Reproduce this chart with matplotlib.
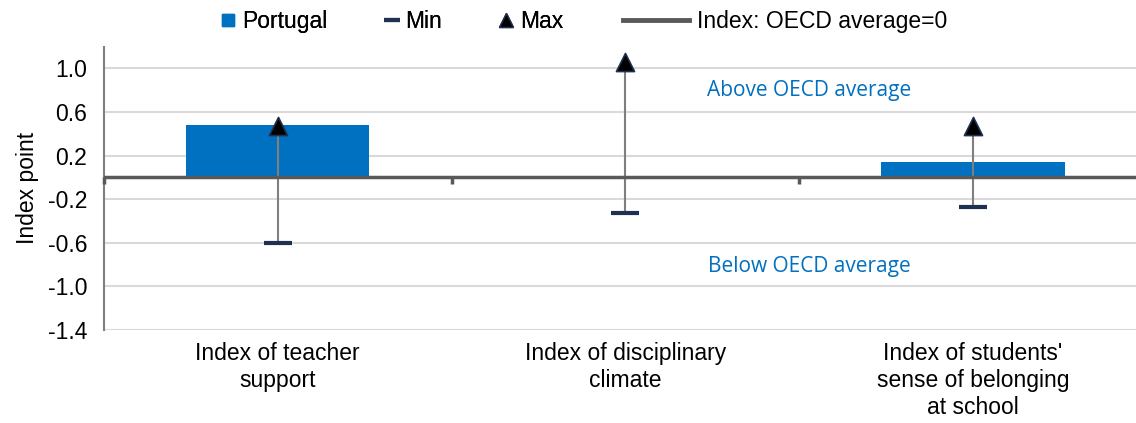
import numpy as np
import matplotlib
matplotlib.use("Agg")
import matplotlib.pyplot as plt
from matplotlib.lines import Line2D

plt.rcParams["font.family"] = ["Liberation Sans", "DejaVu Sans"]

categories = [
    "Index of teacher\nsupport",
    "Index of disciplinary\nclimate",
    "Index of students'\nsense of belonging\nat school",
]
portugal = [0.48, 0.01, 0.14]
mins = [-0.60, -0.33, -0.27]
maxs = [0.47, 1.06, 0.47]
yticks = [-1.4, -1.0, -0.6, -0.2, 0.2, 0.6, 1.0]

bar_color = "#0070C0"
marker_color = "#1F3050"
axis_gray = "#7F7F7F"
zero_gray = "#595959"

fig = plt.figure(figsize=(11.36, 4.23), dpi=100)
ax = fig.add_axes([0.0915, 0.22, 0.918, 0.67])

x = np.arange(len(categories))
ax.set_xlim(-0.5, len(categories) - 0.5)
ax.set_ylim(-1.4, 1.2)

# grid
for yv in yticks:
    ax.axhline(yv, color="#D9D9D9", lw=1.5, zorder=0)

ax.bar(x, portugal, width=0.527, color=bar_color, zorder=2)

# min-max range lines
ax.vlines(x, mins, maxs, color=axis_gray, lw=1.5, zorder=3)
ax.scatter(x, mins, marker="_", s=420, color=marker_color, linewidths=3, zorder=4)
ax.scatter(x, maxs, marker="^", s=170, color="black", edgecolors=marker_color,
           linewidths=1.2, zorder=4)

# zero line (OECD average)
ax.axhline(0, color=zero_gray, lw=2.5, zorder=3)
for b in np.arange(len(categories) + 1) - 0.5:
    ax.plot([b, b], [0, -0.06], color=zero_gray, lw=2.5, zorder=3,
            solid_capstyle="butt", clip_on=False)

ax.text(1.53, 0.80, "Above OECD average", color=bar_color, fontsize=15,
        family=["Open Sans", "DejaVu Sans"], ha="center", va="center")
ax.text(1.53, -0.82, "Below OECD average", color=bar_color, fontsize=15,
        family=["Open Sans", "DejaVu Sans"], ha="center", va="center")

ax.set_yticks(yticks)
ax.set_yticklabels([f"{v:.1f}" for v in yticks], fontsize=16.5)
ax.set_xticks(x)
ax.set_xticklabels(categories, fontsize=16.5, linespacing=1.2)
ax.tick_params(axis="x", length=0, pad=9)
ax.tick_params(axis="y", length=0, pad=12)
ax.set_ylabel("Index point", fontsize=16.5, labelpad=6)

for s in ["top", "right", "bottom"]:
    ax.spines[s].set_visible(False)
ax.spines["left"].set_color(axis_gray)
ax.spines["left"].set_linewidth(1.5)

handles = [
    Line2D([], [], marker="s", color=bar_color, ls="none", markersize=9),
    Line2D([], [], marker="_", color=marker_color, ls="none", markersize=12,
           markeredgewidth=3),
    Line2D([], [], marker="^", color="black", markeredgecolor=marker_color,
           ls="none", markersize=10),
]
leg1 = fig.legend(handles, ["Portugal", "Min", "Max"], loc="center left",
                  bbox_to_anchor=(0.194, 0.948), ncol=3, frameon=False,
                  fontsize=16.5, handlelength=0.7, handletextpad=0.25,
                  columnspacing=2.45, borderaxespad=0, borderpad=0)
fig.legend([Line2D([], [], color=zero_gray, lw=3.5)], ["Index: OECD average=0"],
           loc="center left", bbox_to_anchor=(0.548, 0.948), frameon=False,
           fontsize=16.5, handlelength=2.9, handletextpad=0.35,
           borderaxespad=0, borderpad=0)
fig.add_artist(leg1)

fig.savefig("out.png", dpi=100)
